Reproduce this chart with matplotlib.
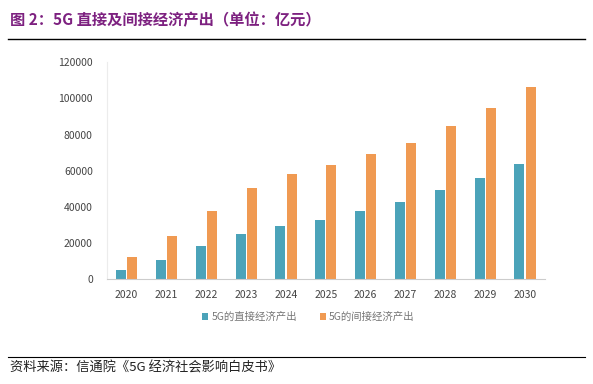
import matplotlib.pyplot as plt
import numpy as np

plt.rcParams['font.family'] = ['Noto Sans CJK SC', 'DejaVu Sans']

years = ['2020', '2021', '2022', '2023', '2024', '2025', '2026', '2027', '2028', '2029', '2030']
direct = [5000, 10500, 18300, 24900, 29500, 33000, 37700, 42600, 49100, 55700, 63500]
indirect = [12400, 24000, 37800, 50200, 58000, 63000, 69200, 75500, 84900, 94500, 106500]
yticks = [0, 20000, 40000, 60000, 80000, 100000, 120000]

title = '图 2：5G 直接及间接经济产出（单位：亿元）'
source = '资料来源：信通院《5G 经济社会影响白皮书》'
labels = ['5G的直接经济产出', '5G的间接经济产出']

fig = plt.figure(figsize=(5.93, 3.84), dpi=100)
ax = fig.add_axes([0.18, 0.273, 0.739, 0.565])

x = np.arange(len(years))
w = 0.25
ax.bar(x - 0.14, direct, w, color='#4ba3b9', label=labels[0])
ax.bar(x + 0.14, indirect, w, color='#f09a52', label=labels[1])

ax.set_xlim(-0.5, len(years) - 0.5)
ax.set_ylim(0, 120000)
ax.set_yticks(yticks)
ax.set_yticklabels([str(v) for v in yticks])
ax.set_xticks(x)
ax.set_xticklabels(years)
ax.tick_params(length=0, labelsize=7.5, colors='#444444')
ax.tick_params(axis='x', pad=8)
ax.tick_params(axis='y', pad=10)
for s in ['top', 'right']:
    ax.spines[s].set_visible(False)
ax.spines['left'].set_color('#ececec')
ax.spines['bottom'].set_color('#cccccc')

leg = fig.legend(loc='center', bbox_to_anchor=(0.52, 0.174), ncol=2, frameon=False,
                 fontsize=7.5, handlelength=0.6, handleheight=0.6, columnspacing=2.2,
                 handletextpad=0.3)
for t in leg.get_texts():
    t.set_color('#777777')

fig.text(0.017, 0.948, title, fontsize=11, fontweight='bold', color='#7d2180', va='center')
fig.add_artist(plt.Line2D([0.014, 0.987], [0.898, 0.898], color='black', lw=1))
fig.add_artist(plt.Line2D([0.014, 0.987], [0.07, 0.07], color='black', lw=0.8))
fig.text(0.017, 0.042, source, fontsize=9.5, color='#222222', va='center')

fig.savefig('out.png', dpi=100)
